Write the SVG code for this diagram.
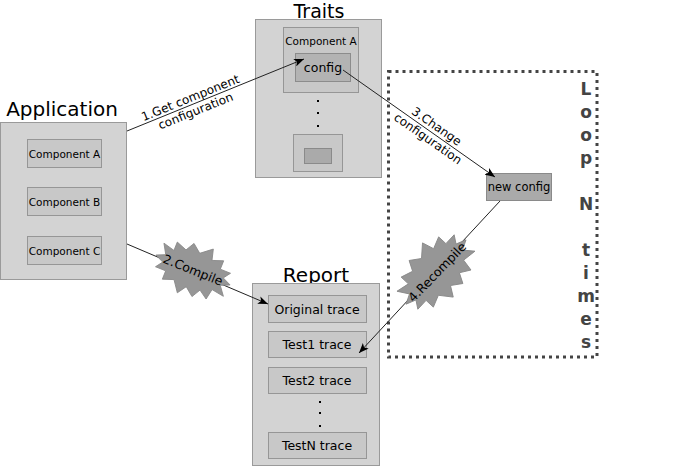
<svg xmlns="http://www.w3.org/2000/svg" width="700" height="468" viewBox="0 0 700 468">
<defs>
<style>
.outer{fill:#d3d3d3;stroke:#9a9a9a;stroke-width:1}
.comp{fill:#c8c8c8;stroke:#969696;stroke-width:1}
.dark{fill:#b3b3b3;stroke:#8c8c8c;stroke-width:1}
.darker{fill:#aaaaaa;stroke:#8a8a8a;stroke-width:1}
.title{font-family:"DejaVu Sans",sans-serif;font-size:20px;fill:#000;text-anchor:middle}
.lbl{font-family:"DejaVu Sans",sans-serif;font-size:10.5px;fill:#000;text-anchor:middle}
.lbl2{font-family:"DejaVu Sans",sans-serif;font-size:12.5px;fill:#000;text-anchor:middle}
.clbl{font-family:"DejaVu Sans",sans-serif;font-size:12px;fill:#000;text-anchor:middle}
.loop{font-family:"DejaVu Sans",sans-serif;font-size:17px;font-weight:bold;fill:#444;text-anchor:middle}
.conn{stroke:#222;stroke-width:1;fill:none}
.burst{fill:#969696;stroke:#888;stroke-width:0.8}
.dot{fill:#000}
</style>
<marker id="arr" markerUnits="userSpaceOnUse" markerWidth="11" markerHeight="8" refX="10" refY="4" orient="auto">
<path d="M0,0 L10,4 L0,8 L2.5,4 z" fill="#000"/>
</marker>
<polygon id="star" points="40,0 31,4 38,13 25,11 23,22 14,16 9,25 0,18 -6,27 -14,16 -25,20 -25,11 -36,11 -31,4 -40,0 -31,-4 -37,-14 -25,-11 -25,-20 -14,-16 -9,-25 0,-18 11,-27 14,-16 25,-20 25,-11 36,-11 31,-4"/>
</defs>

<g id="loop">
<rect x="388.5" y="71.5" width="208.5" height="285.5" fill="none" stroke="#444" stroke-width="3" stroke-dasharray="3 4"/>
<text class="loop" x="586" y="95">L</text>
<text class="loop" x="586" y="118">o</text>
<text class="loop" x="586" y="141">o</text>
<text class="loop" x="586" y="164">p</text>
<text class="loop" x="586" y="210">N</text>
<text class="loop" x="586" y="256">t</text>
<text class="loop" x="586" y="279">i</text>
<text class="loop" x="586" y="302">m</text>
<text class="loop" x="586" y="325">e</text>
<text class="loop" x="586" y="348">s</text>
</g>

<g id="application">
<text class="title" x="62" y="116">Application</text>
<rect class="outer" x="0.5" y="122.5" width="126" height="157"/>
<rect class="comp" x="27.5" y="139.5" width="74" height="28"/>
<text class="lbl" x="64.5" y="157.5">Component A</text>
<rect class="comp" x="27.5" y="187.5" width="74" height="28"/>
<text class="lbl" x="64.5" y="205.5">Component B</text>
<rect class="comp" x="27.5" y="236.5" width="74" height="28"/>
<text class="lbl" x="64.5" y="254.5">Component C</text>
</g>

<g id="traits">
<text class="title" x="319" y="18" style="font-size:19px">Traits</text>
<rect class="outer" x="255.5" y="19.5" width="126" height="158"/>
<rect class="comp" x="283.5" y="27.5" width="75" height="65"/>
<text class="lbl" x="321" y="45">Component A</text>
<rect class="dark" x="295.5" y="53.5" width="55" height="28"/>
<text class="lbl2" x="323" y="72">config</text>
<rect class="dot" x="317" y="100" width="2" height="2"/>
<rect class="dot" x="317" y="112" width="2" height="2"/>
<rect class="dot" x="317" y="125" width="2" height="2"/>
<rect class="comp" x="293.5" y="134.5" width="49" height="37"/>
<rect class="darker" x="304.5" y="148.5" width="27" height="15"/>
</g>

<g id="newconfig">
<rect class="darker" x="486.5" y="173.5" width="65" height="27"/>
<text class="clbl" x="519" y="191" style="font-size:11.5px">new config</text>
</g>

<g id="report">
<text class="title" x="316" y="282">Report</text>
<rect class="outer" x="252.5" y="283.5" width="127" height="182"/>
<rect class="comp" x="268.5" y="295.5" width="98" height="27"/>
<text class="lbl2" x="317" y="313.5">Original trace</text>
<rect class="comp" x="268.5" y="331.5" width="98" height="26"/>
<text class="lbl2" x="317" y="349">Test1 trace</text>
<rect class="comp" x="268.5" y="367.5" width="98" height="26"/>
<text class="lbl2" x="317" y="385">Test2 trace</text>
<rect class="dot" x="319" y="401" width="2" height="2"/>
<rect class="dot" x="319" y="412" width="2" height="2"/>
<rect class="dot" x="319" y="425" width="2" height="2"/>
<rect class="comp" x="268.5" y="432.5" width="98" height="26"/>
<text class="lbl2" x="317" y="450">TestN trace</text>
</g>

<g id="connectors">
<line class="conn" x1="127" y1="131" x2="304" y2="59" marker-end="url(#arr)"/>
<g transform="translate(193,104.5) rotate(-22)">
<text class="clbl" x="0" y="-3">1.Get component</text>
<text class="clbl" x="0" y="11">configuration</text>
</g>
<line class="conn" x1="343" y1="70" x2="495" y2="177" marker-end="url(#arr)"/>
<g transform="translate(432,133) rotate(35)">
<text class="clbl" x="0" y="-4">3.Change</text>
<text class="clbl" x="0" y="11">configuration</text>
</g>
<line class="conn" x1="127" y1="244" x2="268" y2="304" marker-end="url(#arr)"/>
<g transform="translate(193,270) rotate(22)">
<use href="#star" class="burst"/>
<text class="lbl2" x="0" y="4.5">2.Compile</text>
</g>
<line class="conn" x1="500" y1="201" x2="359" y2="353" marker-end="url(#arr)"/>
<g transform="translate(436,272) rotate(-47) scale(1.1)">
<use href="#star" class="burst"/>
</g>
<g transform="translate(437,272) rotate(-46)">
<text class="lbl2" x="0" y="4.5">4.Recompile</text>
</g>
</g>
</svg>
